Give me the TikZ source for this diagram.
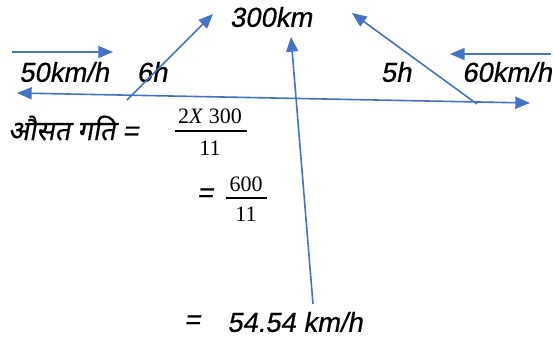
\documentclass[tikz,border=0pt]{standalone}
\usepackage{fontspec}
\setmainfont{Liberation Sans}
\newfontfamily\hand[FakeSlant=0.18,FakeBold=0.6]{Liberation Sans}
\newfontfamily\hindi[Script=Devanagari,FakeSlant=0.18,FakeBold=0.6]{Noto Sans}
\newfontfamily\cam{Liberation Serif}
\usetikzlibrary{arrows.meta}
\definecolor{arrblue}{RGB}{68,114,196}
\tikzset{
  arr/.style={draw=arrblue, line width=1.2pt, -{Triangle[length=11pt,width=9pt]}},
  dblarr/.style={draw=arrblue, line width=1.2pt, {Triangle[length=11pt,width=9pt]}-{Triangle[length=11pt,width=9pt]}},
  lbl/.style={inner sep=0pt, font=\hand\fontsize{20.5}{24}\selectfont},
  mth/.style={inner sep=0pt, font=\cam\fontsize{16.5}{19}\selectfont},
  bar/.style={draw=black, line width=1.5pt}
}
\begin{document}
\begin{tikzpicture}[x=0.75pt,y=-0.75pt]
\useasboundingbox (0,0) rectangle (554,340);
% labels
\node[lbl] (t300) at (271,17) {300km};
\node[lbl] (t50) at (64,72) {50km/h};
\node[lbl] (t6) at (152,72) {6h};
\node[lbl] (t5) at (396,72) {5h};
\node[lbl] (t60) at (507,72) {60km/h};
\node[inner sep=0pt, anchor=west] (avg) at (8,128) {\hindi\fontsize{20.5}{24}\selectfont औसत गति \hand=};
% fraction 1
\node[mth] (n1) at (210,116) {2\textit{X} 300};
\node[mth] (d1) at (210,148) {11};
\coordinate (b1s) at (175,131); \coordinate (b1e) at (247,131);
\draw[bar] (b1s) -- (b1e);
% fraction 2
\node[lbl] (eq2) at (205,195) {=};
\node[mth] (n2) at (246,184) {600};
\node[mth] (d2) at (246,214) {11};
\coordinate (b2s) at (226,198); \coordinate (b2e) at (267,198);
\draw[bar] (b2s) -- (b2e);
% result
\node[lbl, anchor=west] (eq3) at (184,322) {=};
\node[lbl, anchor=west] (res) at (227,322) {54.54 km/h};
% arrow coordinates
\coordinate (a1s) at (12,52);  \coordinate (a1e) at (113,52);
\coordinate (a2s) at (127,100); \coordinate (a2e) at (213,14);
\coordinate (a3s) at (17,93);  \coordinate (a3e) at (530,103);
\coordinate (a4s) at (313,304); \coordinate (a4e) at (291,37);
\coordinate (a5s) at (477,104); \coordinate (a5e) at (352,13);
\coordinate (a6s) at (551,54); \coordinate (a6e) at (450,54);
\draw[arr] (a1s) -- (a1e);
\draw[arr] (a2s) -- (a2e);
\draw[dblarr] (a3s) -- (a3e);
\draw[arr] (a4s) -- (a4e);
\draw[arr] (a5s) -- (a5e);
\draw[arr] (a6s) -- (a6e);
\end{tikzpicture}
\end{document}
